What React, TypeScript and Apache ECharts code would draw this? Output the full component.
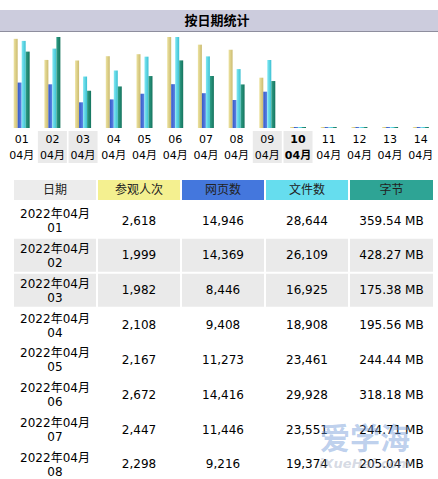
import React, { useEffect, useRef } from "react";
import * as echarts from "echarts";

const days = ["01", "02", "03", "04", "05", "06", "07", "08", "09", "10", "11", "12", "13", "14"];
const monthLabel = "04月";
const yearMonth = "2022年04月";
const visits = [2618, 1999, 1982, 2108, 2167, 2672, 2447, 2298, 1477, 0, 0, 0, 0, 0];
const pages = [14946, 14369, 8446, 9408, 11273, 14416, 11446, 9216, 11940, 0, 0, 0, 0, 0];
const hits = [28644, 26109, 16925, 18908, 23461, 29928, 23551, 19374, 22365, 0, 0, 0, 0, 0];
const bytesMB = [359.54, 428.27, 175.38, 195.56, 244.44, 318.18, 244.71, 205.04, 221, 0, 0, 0, 0, 0];
const weekendDays = ["02", "03", "09", "10"];
const today = "10";
const titleText = "按日期统计";
const tableHeaders = ["日期", "参观人次", "网页数", "文件数", "字节"];
const tableRowCount = 8;

const FONT = "DejaVu Sans, Verdana, 'Noto Sans CJK SC', sans-serif";

const grad = (a: string, b: string) =>
  new echarts.graphic.LinearGradient(0, 0, 1, 0, [
    { offset: 0, color: a },
    { offset: 1, color: b },
  ]);

export default function App() {
  const ref = useRef<HTMLDivElement>(null);
  useEffect(() => {
    if (!ref.current) return;
    const chart = echarts.init(ref.current, null, { renderer: "svg" });

    const graphics: any[] = [];
    // title bar
    graphics.push({ type: "rect", shape: { x: 0, y: 10, width: 438, height: 21 }, style: { fill: "#CCCCDD" }, silent: true });
    graphics.push({ type: "line", shape: { x1: 0, y1: 31.5, x2: 438, y2: 31.5 }, style: { stroke: "#8E8E9E", lineWidth: 1 }, silent: true });
    graphics.push({
      type: "text",
      style: { text: titleText, x: 217, y: 20.5, fill: "#000", fontSize: 13, fontWeight: "bold", fontFamily: FONT, align: "center", verticalAlign: "middle" },
      silent: true,
    });

    // table
    const colX = [14, 98, 182, 266, 350];
    const colW = [82, 82, 82, 82, 83];
    const headBg = ["#ECECEC", "#F4F090", "#4477DD", "#66DDEE", "#2EA495"];
    tableHeaders.forEach((h, i) => {
      graphics.push({ type: "rect", shape: { x: colX[i], y: 180, width: colW[i], height: 20 }, style: { fill: headBg[i] }, silent: true });
      graphics.push({
        type: "text",
        style: { text: h, x: colX[i] + colW[i] / 2, y: 190, fill: "#222", fontSize: 12, fontFamily: FONT, align: "center", verticalAlign: "middle" },
        silent: true,
      });
    });
    for (let r = 0; r < tableRowCount; r++) {
      const c = 220.5 + 34.85 * r;
      const isWeekend = weekendDays.includes(days[r]);
      const cells = [
        "",
        visits[r].toLocaleString("en-US"),
        pages[r].toLocaleString("en-US"),
        hits[r].toLocaleString("en-US"),
        bytesMB[r].toFixed(2) + " MB",
      ];
      for (let i = 0; i < 5; i++) {
        if (isWeekend) {
          graphics.push({ type: "rect", shape: { x: colX[i], y: c - 16.5, width: colW[i], height: 33 }, style: { fill: "#EAEAEA" }, silent: true });
        }
        const cx = colX[i] + colW[i] / 2;
        if (i === 0) {
          graphics.push({
            type: "text",
            style: { text: yearMonth, x: cx, y: c - 6.5, fill: "#000", fontSize: 12, fontFamily: FONT, align: "center", verticalAlign: "middle" },
            silent: true,
          });
          graphics.push({
            type: "text",
            style: { text: days[r], x: cx, y: c + 7.5, fill: "#000", fontSize: 12, fontFamily: FONT, align: "center", verticalAlign: "middle" },
            silent: true,
          });
        } else {
          graphics.push({
            type: "text",
            style: { text: cells[i], x: cx, y: c, fill: "#000", fontSize: 12, fontFamily: FONT, align: "center", verticalAlign: "middle" },
            silent: true,
          });
        }
      }
    }
    // watermark
    graphics.push({
      type: "text",
      z: 100,
      style: { text: "爱学海", x: 365, y: 438, fill: "rgba(110,150,215,0.45)", fontSize: 30, fontWeight: "bold", fontFamily: FONT, align: "center", verticalAlign: "middle" },
      silent: true,
    });
    graphics.push({
      type: "text",
      z: 100,
      style: { text: "iXueHai.com", x: 365, y: 463, fill: "rgba(150,160,185,0.4)", fontSize: 13, fontStyle: "italic", fontWeight: "bold", fontFamily: FONT, align: "center", verticalAlign: "middle" },
      silent: true,
    });

    const labelBase = { fontSize: 11, lineHeight: 16, height: 16, width: 29, align: "center", fontFamily: FONT, color: "#000" };

    const maxVisits = Math.max(...visits);
    const maxHits = Math.max(...hits, ...pages);
    const maxBytes = Math.max(...bytesMB);

    const barCommon = { type: "bar", barWidth: 4, barGap: "0%", barMinHeight: 1, xAxisIndex: 0 };

    chart.setOption({
      animation: false,
      grid: { left: 6.33, top: 37, width: 438.6, height: 91, containLabel: false },
      xAxis: {
        type: "category",
        data: days,
        axisLine: { show: false },
        axisTick: { show: false },
        axisLabel: {
          interval: 0,
          margin: 3,
          formatter: (v: string) => {
            const key = v === today ? "wb" : weekendDays.includes(v) ? "w" : "n";
            return `{${key}|${v}}\n{${key}|${monthLabel}}`;
          },
          rich: {
            n: { ...labelBase },
            w: { ...labelBase, backgroundColor: "#EAEAEA" },
            wb: { ...labelBase, backgroundColor: "#EAEAEA", fontWeight: "bold" },
          },
        },
      },
      yAxis: [
        { type: "value", show: false, min: 0, max: maxVisits },
        { type: "value", show: false, min: 0, max: maxHits },
        { type: "value", show: false, min: 0, max: maxBytes },
      ],
      series: [
        { ...barCommon, name: "参观人次", data: visits, yAxisIndex: 0, itemStyle: { color: grad("#EDE3A0", "#CBBB70") } },
        { ...barCommon, name: "网页数", data: pages, yAxisIndex: 1, itemStyle: { color: grad("#3558C8", "#5F88E6") } },
        { ...barCommon, name: "文件数", data: hits, yAxisIndex: 1, itemStyle: { color: grad("#80E8F3", "#3CC0D2") } },
        { ...barCommon, name: "字节", data: bytesMB, yAxisIndex: 2, itemStyle: { color: grad("#2FA088", "#15735D") } },
      ],
      graphic: graphics,
    });
    return () => chart.dispose();
  }, []);
  return <div ref={ref} style={{ position: "fixed", left: 0, top: 0, width: 438, height: 479, background: "#fff" }} />;
}
